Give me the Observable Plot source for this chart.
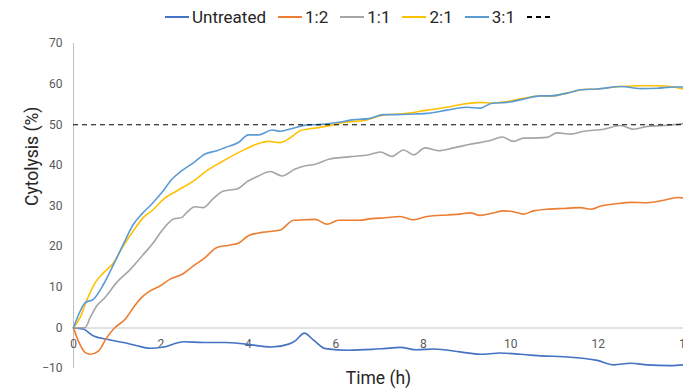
<!DOCTYPE html>
<html><head><meta charset="utf-8">
<script src="https://cdn.jsdelivr.net/npm/d3@7"></script>
<script src="https://cdn.jsdelivr.net/npm/@observablehq/plot@0.6"></script>
<style>
html,body{margin:0;padding:0;background:#fff;overflow:hidden}
body{width:683px;height:390px;font-family:Roboto,"Noto Sans",sans-serif}
#legend{height:34px;display:flex;align-items:center;padding-left:165px;font-size:17px;color:#262626;box-sizing:border-box}
#legend .item{display:flex;align-items:center;margin-right:12px}
#legend .sw{width:24px;height:0;border-top:2px solid;margin-right:3px}
#legend .dash{width:23px;height:2px;background:repeating-linear-gradient(to right,#000 0 5px,transparent 5px 9px)}
</style></head><body>
<div id="legend"></div>
<div id="chart"></div>
<script>
// ---- data ----
const seriesNames = ["Untreated", "1:2", "1:1", "2:1", "3:1"];
const seriesColors = ["#4472C4", "#ED7D31", "#A5A5A5", "#FFC000", "#5B9BD5"];
const threshold = 50;
const thresholdLabel = "---";
const xTicks = [0, 2, 4, 6, 8, 10, 12, 14];
const yTicks = [-10, 0, 10, 20, 30, 40, 50, 60, 70];

const untreatedT = [0,0.22,0.46,0.76,1.14,1.45,1.75,2.06,2.52,2.97,3.47,3.93,4.54,4.92,5.07,5.28,5.49,5.76,6.29,6.83,7.1,7.47,7.85,8.24,8.84,9.30,9.76,10.22,10.45,10.68,11.21,11.98,12.36,12.74,13.12,13.66,13.95];
const untreatedV = [0,-0.3,-2.0,-2.8,-3.6,-4.4,-5.0,-4.7,-3.4,-3.6,-3.6,-4.0,-4.7,-4.0,-3.2,-1.3,-3.0,-5.1,-5.5,-5.3,-5.1,-4.8,-5.4,-5.2,-5.9,-6.5,-6.2,-6.5,-6.7,-6.9,-7.1,-8.0,-9.1,-8.7,-9.1,-9.3,-9.1];

const r12T = [0,0.11,0.27,0.38,0.57,0.76,0.95,1.18,1.37,1.56,1.75,1.98,2.21,2.48,2.75,3.01,3.28,3.59,3.78,4.0,4.31,4.73,5.03,5.30,5.53,5.80,6.06,6.52,6.82,7.13,7.47,7.78,8.08,8.54,8.84,9.07,9.30,9.57,9.84,10.06,10.29,10.52,10.83,11.21,11.60,11.83,12.06,12.44,12.74,13.12,13.50,13.81,13.95];
const r12V = [0,-3.2,-6.1,-6.5,-5.7,-2.4,0.1,2.1,5.0,7.5,9.1,10.3,12.0,13.2,15.3,17.3,19.8,20.4,20.9,22.7,23.5,24.1,26.5,26.6,26.7,25.5,26.5,26.5,26.9,27.1,27.4,26.6,27.4,27.8,28.0,28.3,27.7,28.2,28.8,28.6,28.0,28.8,29.2,29.4,29.6,29.2,30.0,30.6,30.9,30.8,31.4,32.1,32.0];

const r11T = [0,0.27,0.38,0.53,0.72,0.99,1.30,1.60,1.83,2.02,2.29,2.48,2.59,2.78,2.97,3.20,3.43,3.74,4.0,4.23,4.50,4.77,5.07,5.30,5.53,5.84,6.30,6.75,7.02,7.28,7.55,7.78,8.04,8.35,8.69,9.07,9.53,9.80,10.06,10.29,10.45,10.83,11.06,11.37,11.67,12.13,12.51,12.82,13.12,13.50,13.95];
const r11V = [0,0.1,2.5,5.4,7.5,11.2,14.4,18.1,21.0,23.9,26.8,27.2,28.4,29.8,29.6,31.9,33.7,34.2,36.2,37.4,38.5,37.4,39.1,39.9,40.3,41.5,42.1,42.6,43.3,42.2,43.8,42.6,44.3,43.6,44.3,45.2,46.1,47.0,45.9,46.7,46.7,46.9,48.0,47.7,48.4,48.9,49.8,48.9,49.6,49.8,50.3];

const r21T = [0,0.15,0.30,0.50,0.69,0.92,1.14,1.37,1.60,1.83,2.06,2.36,2.75,3.05,3.36,3.59,3.93,4.23,4.46,4.73,4.96,5.18,5.34,5.60,5.91,6.21,6.67,7.05,7.63,8.08,8.54,8.92,9.30,9.57,9.91,10.29,10.68,10.91,11.37,11.60,11.98,12.51,12.97,13.35,13.73,13.95];
const r21V = [0,2.5,6.7,11.2,13.6,16.1,20.2,23.9,27.2,29.2,31.7,33.7,36.2,38.7,40.7,42.1,44.0,45.4,45.9,45.6,46.8,48.5,48.9,49.3,49.9,50.6,51.1,52.3,52.8,53.6,54.3,55.1,55.5,55.3,55.7,56.5,57.1,57.1,58.0,58.6,58.8,59.4,59.6,59.6,59.3,58.8];

const r31T = [0,0.27,0.46,0.69,0.92,1.14,1.37,1.56,1.79,2.02,2.25,2.48,2.75,3.01,3.28,3.47,3.78,4.0,4.23,4.54,4.73,5.0,5.3,5.68,6.06,6.37,6.75,7.09,7.40,7.70,8.08,8.54,8.99,9.30,9.57,9.91,10.29,10.68,10.91,11.37,11.60,11.98,12.51,12.97,13.35,13.73,13.95];
const r31V = [0,6.2,7.1,10.8,15.7,20.6,25.5,28.0,30.5,33.3,36.6,38.7,40.7,42.8,43.6,44.4,45.7,47.5,47.5,48.7,48.4,49.1,49.9,50.1,50.6,51.2,51.5,52.5,52.5,52.6,52.8,53.6,54.3,54.1,55.3,55.5,56.3,57.1,57.1,58.0,58.6,58.8,59.4,58.9,59.0,59.3,59.3];

// ---- build table ----
const seriesT = [untreatedT, r12T, r11T, r21T, r31T];
const seriesV = [untreatedV, r12V, r11V, r21V, r31V];
const rows = [];
seriesNames.forEach((name, i) => {
  seriesT[i].forEach((t, j) => rows.push({series: name, t, v: seriesV[i][j]}));
});

// ---- legend ----
const legend = document.getElementById("legend");
seriesNames.forEach((name, i) => {
  const it = document.createElement("div"); it.className = "item";
  const sw = document.createElement("span"); sw.className = "sw"; sw.style.borderTopColor = seriesColors[i];
  const tx = document.createElement("span"); tx.textContent = name;
  it.append(sw, tx); legend.append(it);
});
{
  const it = document.createElement("div"); it.className = "item";
  const sw = document.createElement("span"); sw.className = "dash"; sw.title = thresholdLabel;
  it.append(sw); legend.append(it);
}

// ---- chart ----
const chart = Plot.plot({
  width: 683, height: 356,
  marginLeft: 73, marginRight: 0, marginTop: 9, marginBottom: 22,
  x: {domain: [0, 13.95], axis: null},
  y: {domain: [-10, 70], axis: null},
  color: {domain: seriesNames, range: seriesColors},
  style: {fontFamily: "Roboto, sans-serif", background: "#fff", overflow: "visible"},
  marks: [
    Plot.ruleY([0], {stroke: "#d9d9d9", strokeWidth: 1.5}),
    Plot.ruleX([0], {y1: -10, y2: 70, stroke: "#bfbfbf"}),
    Plot.axisY(yTicks, {tickSize: 0, tickPadding: 11, fontSize: 12, color: "#595959", label: null}),
    Plot.text(xTicks, {x: d => d, y: 0, dy: 16, fontSize: 12, fill: "#595959"}),
    Plot.line(rows, {x: "t", y: "v", stroke: "series", z: "series", strokeWidth: 1.6, curve: "monotone-x"}),
    Plot.ruleY([threshold], {stroke: "#000", strokeDasharray: "5,4", strokeWidth: 1.2}),
    Plot.text(["Cytolysis (%)"], {frameAnchor: "left", dx: -41, rotate: -90, fontSize: 17.5, fill: "#262626"}),
    Plot.text(["Time (h)"], {frameAnchor: "bottom", dy: 15, fontSize: 17.5, fill: "#262626"})
  ]
});
document.getElementById("chart").append(chart);
</script>
</body></html>
